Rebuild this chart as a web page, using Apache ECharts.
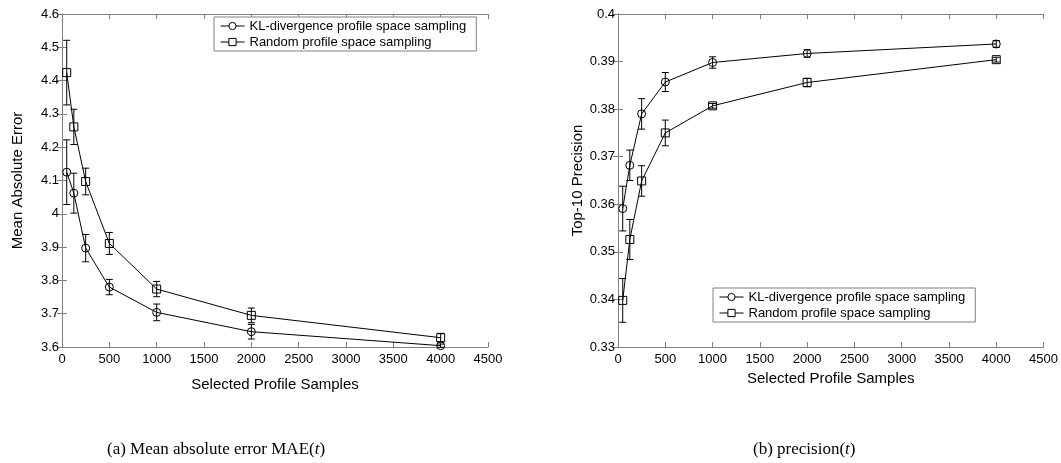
<!DOCTYPE html>
<html>
<head>
<meta charset="utf-8">
<script src="https://cdn.jsdelivr.net/npm/echarts@6/dist/echarts.min.js"></script>
<style>
html,body{margin:0;padding:0;background:#fff;}
#chart{width:1061px;height:463px;}
</style>
</head>
<body>
<div id="chart"></div>
<script>
// ---- data ----
const samples = [50, 125, 250, 500, 1000, 2000, 4000];
const seriesNames = ['KL-divergence profile space sampling', 'Random profile space sampling'];

const maeKL = [4.125, 4.062, 3.897, 3.780, 3.704, 3.646, 3.604];
const maeKLErr = [0.097, 0.060, 0.041, 0.023, 0.025, 0.022, 0.005];
const maeRandom = [4.424, 4.261, 4.097, 3.911, 3.774, 3.695, 3.628];
const maeRandomErr = [0.097, 0.053, 0.040, 0.033, 0.023, 0.022, 0.013];

const precKL = [0.3591, 0.3682, 0.3790, 0.3857, 0.3898, 0.3917, 0.3937];
const precKLErr = [0.0047, 0.0032, 0.0032, 0.0020, 0.0012, 0.0008, 0.0007];
const precRandom = [0.3398, 0.3526, 0.3649, 0.3750, 0.3807, 0.3856, 0.3904];
const precRandomErr = [0.0046, 0.0042, 0.0032, 0.0027, 0.0005, 0.0009, 0.0005];

const leftTitleY = 'Mean Absolute Error';
const rightTitleY = 'Top-10 Precision';
const titleX = 'Selected Profile Samples';
const captionA = '(a) Mean absolute error MAE(';
const captionB = '(b) precision(';

// ---- helpers ----
const AX = '#808080';
const FONT = '"Liberation Sans", Arial, sans-serif';
const SERIF = '"Liberation Serif", "Times New Roman", serif';

function pairs(xs, ys) { return xs.map((x, i) => [x, ys[i]]); }
function triples(xs, ys, es) { return xs.map((x, i) => [x, ys[i], es[i]]); }

function errRender(params, api) {
  const x = api.value(0), y = api.value(1), e = api.value(2);
  const hi = api.coord([x, y + e]);
  const lo = api.coord([x, y - e]);
  const w = 3.5;
  const st = { stroke: '#000', lineWidth: 1 };
  return {
    type: 'group',
    children: [
      { type: 'line', shape: { x1: hi[0], y1: hi[1], x2: lo[0], y2: lo[1] }, style: st },
      { type: 'line', shape: { x1: hi[0] - w, y1: hi[1], x2: hi[0] + w, y2: hi[1] }, style: st },
      { type: 'line', shape: { x1: lo[0] - w, y1: lo[1], x2: lo[0] + w, y2: lo[1] }, style: st }
    ]
  };
}

function mainX(gi, nameGap) {
  return {
    type: 'value', gridIndex: gi, min: 0, max: 4500, interval: 500,
    name: titleX, nameLocation: 'middle', nameGap: nameGap,
    nameTextStyle: { fontFamily: FONT, fontSize: 15, color: '#000' },
    axisLine: { show: true, lineStyle: { color: AX } },
    axisTick: { show: true, inside: true, length: 5, lineStyle: { color: AX } },
    axisLabel: { fontFamily: FONT, fontSize: 13, color: '#000', margin: 6, formatter: v => String(v) },
    splitLine: { show: false }
  };
}
function topX(gi) {
  return {
    type: 'value', gridIndex: gi, min: 0, max: 4500, interval: 500, position: 'top',
    axisLine: { show: true, lineStyle: { color: AX } },
    axisTick: { show: true, inside: true, length: 5, lineStyle: { color: AX } },
    axisLabel: { show: false }, splitLine: { show: false }
  };
}
function mainY(gi, min, max, interval, name, nameGap) {
  return {
    type: 'value', gridIndex: gi, min: min, max: max, interval: interval,
    name: name, nameLocation: 'middle', nameGap: nameGap,
    nameTextStyle: { fontFamily: FONT, fontSize: 15, color: '#000' },
    axisLine: { show: true, lineStyle: { color: AX } },
    axisTick: { show: true, inside: true, length: 5, lineStyle: { color: AX } },
    axisLabel: { fontFamily: FONT, fontSize: 13, color: '#000', margin: 3 },
    splitLine: { show: false }
  };
}
function rightY(gi, min, max, interval) {
  return {
    type: 'value', gridIndex: gi, min: min, max: max, interval: interval, position: 'right',
    axisLine: { show: true, lineStyle: { color: AX } },
    axisTick: { show: true, inside: true, length: 5, lineStyle: { color: AX } },
    axisLabel: { show: false }, splitLine: { show: false }
  };
}
function lineSeries(name, xi, yi, data, symbol) {
  return {
    type: 'line', name: name, xAxisIndex: xi, yAxisIndex: yi, data: data,
    symbol: symbol, symbolSize: 8, showAllSymbol: true,
    lineStyle: { color: '#000', width: 1 },
    itemStyle: { color: 'rgba(255,255,255,0)', borderColor: '#000', borderWidth: 1 },
    animation: false, z: 3
  };
}
function errSeries(xi, yi, data) {
  return {
    type: 'custom', xAxisIndex: xi, yAxisIndex: yi, data: data,
    encode: { x: 0, y: 1 }, renderItem: errRender, animation: false, z: 2, silent: true
  };
}
function legend(left, top) {
  return {
    left: left, top: top, orient: 'vertical', data: seriesNames,
    itemWidth: 24, itemHeight: 9, itemGap: 2,
    backgroundColor: '#fff', borderColor: '#808080', borderWidth: 1, borderRadius: 0,
    padding: [2, 10, 2, 6], selectedMode: false,
    itemStyle: { color: '#fff', borderColor: '#000', borderWidth: 1 },
    lineStyle: { color: '#000', width: 1 },
    textStyle: { fontFamily: FONT, fontSize: 13, color: '#000', lineHeight: 14 }
  };
}

const chart = echarts.init(document.getElementById('chart'), null, { renderer: 'canvas' });
chart.setOption({
  animation: false,
  backgroundColor: '#fff',
  grid: [
    { left: 62, top: 14, width: 426, height: 333 },
    { left: 618, top: 14, width: 427, height: 333 }
  ],
  xAxis: [mainX(0, 30), topX(0), mainX(1, 18), topX(1)],
  yAxis: [
    mainY(0, 3.6, 4.6, 0.1, leftTitleY, 37),
    rightY(0, 3.6, 4.6, 0.1),
    mainY(1, 0.33, 0.4, 0.01, rightTitleY, 30),
    rightY(1, 0.33, 0.4, 0.01)
  ],
  legend: [legend(214, 17), legend(713, 288)],
  series: [
    errSeries(0, 0, triples(samples, maeKL, maeKLErr)),
    errSeries(0, 0, triples(samples, maeRandom, maeRandomErr)),
    lineSeries(seriesNames[0], 0, 0, pairs(samples, maeKL), 'circle'),
    lineSeries(seriesNames[1], 0, 0, pairs(samples, maeRandom), 'rect'),
    errSeries(2, 2, triples(samples, precKL, precKLErr)),
    errSeries(2, 2, triples(samples, precRandom, precRandomErr)),
    lineSeries(seriesNames[0], 2, 2, pairs(samples, precKL), 'circle'),
    lineSeries(seriesNames[1], 2, 2, pairs(samples, precRandom), 'rect')
  ],
  graphic: [
    {
      type: 'text', left: 107, top: 441,
      style: {
        text: '{n|' + captionA + '}{i|t}{n|)}',
        rich: {
          n: { fontFamily: SERIF, fontSize: 17, fill: '#000' },
          i: { fontFamily: SERIF, fontSize: 17, fontStyle: 'italic', fill: '#000' }
        }
      }
    },
    {
      type: 'text', left: 753, top: 441,
      style: {
        text: '{n|' + captionB + '}{i|t}{n|)}',
        rich: {
          n: { fontFamily: SERIF, fontSize: 17, fill: '#000' },
          i: { fontFamily: SERIF, fontSize: 17, fontStyle: 'italic', fill: '#000' }
        }
      }
    }
  ]
});
</script>
</body>
</html>
